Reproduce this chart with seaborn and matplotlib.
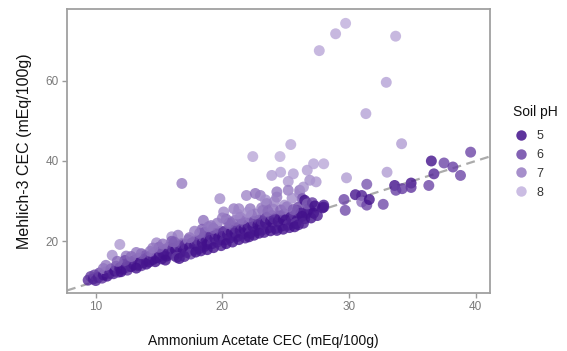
import numpy as np
import pandas as pd
import matplotlib
matplotlib.use("Agg")
import matplotlib.pyplot as plt
from matplotlib.colors import LinearSegmentedColormap, Normalize
from matplotlib.lines import Line2D
import seaborn as sns

# ---- data ----
cec_nh4oac = [
    9.4, 9.6, 9.8, 9.9, 10.0,
    10.2, 10.3, 10.5, 10.6, 10.8, 10.9, 10.6,
    11.1, 11.2, 11.4, 11.5, 11.6, 11.8, 11.9, 11.3, 11.9, 12.4,
    12.1, 12.2, 12.4, 12.5, 12.6, 12.8, 12.9, 12.7,
    13.0, 13.1, 13.3, 13.4, 13.5, 13.6, 13.8, 13.9, 13.7,
    14.0, 14.1, 14.2, 14.4, 14.5, 14.6, 14.8, 14.9, 14.8, 14.3,
    15.0, 15.1, 15.2, 15.4, 15.5, 15.6, 15.7, 15.9, 15.8, 15.3,
    16.0, 16.1, 16.2, 16.3, 16.5, 16.6, 16.7, 16.9, 16.8, 16.0, 16.5, 16.4, 16.8,
    17.0, 17.1, 17.2, 17.3, 17.4, 17.6, 17.7, 17.8, 17.9, 17.5,
    18.0, 18.1, 18.2, 18.4, 18.5, 18.5, 18.6, 18.7, 18.9, 18.8, 18.4, 18.6,
    19.0, 19.1, 19.2, 19.4, 19.5, 19.6, 19.7, 19.9, 19.8, 19.3, 19.8,
    20.0, 20.1, 20.1, 20.2, 20.4, 20.5, 20.6, 20.7, 20.9, 20.9, 20.8, 20.3, 20.6,
    21.0, 21.1, 21.2, 21.3, 21.4, 21.5, 21.6, 21.7, 21.9, 21.8, 21.9, 21.4,
    22.0, 22.1, 22.2, 22.2, 22.2, 22.3, 22.4, 22.4, 22.5, 22.6, 22.7, 22.8, 22.9,
    23.0, 23.0, 23.1, 23.2, 23.2, 23.4, 23.5, 23.5, 23.7, 23.8, 23.9, 23.9,
    24.0, 24.1, 24.2, 24.3, 24.3, 24.4, 24.5, 24.5, 24.55, 24.6, 24.7, 24.8, 24.9, 24.9,
    25.0, 25.2, 25.2, 25.2, 25.4, 25.4, 25.5, 25.6, 25.7, 25.9, 25.9, 25.8,
    26.0, 26.1, 26.1, 26.3, 26.4, 26.5, 26.5, 26.7, 26.8, 26.9, 26.9, 26.6, 26.2,
    27.2, 27.2, 27.4, 27.65, 27.9, 28.0, 28.0, 28.0, 28.94, 29.6, 29.7, 29.73, 29.8,
    30.5, 31.0, 31.0, 31.4, 31.33, 31.4, 31.6, 32.7, 32.94, 33.0, 33.6, 33.68, 33.7,
    34.15, 34.2, 34.9, 34.9, 36.3, 36.5, 36.7, 37.5, 38.2, 38.8, 39.6,
    12.0, 12.3, 13.2, 13.6, 14.0, 14.7, 15.0, 15.5, 16.2, 16.6,
    17.0, 17.4, 17.9, 18.2, 18.3, 18.8, 19.1, 19.3, 19.6, 19.9,
    20.3, 20.5, 20.8, 21.0, 21.3, 21.6, 21.8, 22.1, 22.5, 22.6,
    22.9, 23.1, 23.3, 23.6, 23.8, 24.0, 24.3, 24.6, 24.8, 25.1,
    25.3, 25.6, 25.7, 26.0, 26.3, 26.4, 26.7, 27.0, 27.1, 27.5,
    27.3, 16.0, 15.3, 14.5, 13.2, 12.8, 11.7, 10.8, 20.0, 21.2,
    22.0, 23.4, 24.1, 25.5, 18.9, 17.8,
]
cec_mehlich3 = [
    10.3, 11.2, 10.6, 11.6, 10.2,
    11.0, 12.1, 10.8, 11.6, 12.4, 11.3, 13.2,
    12.0, 13.1, 11.9, 12.6, 13.8, 12.3, 13.4, 16.5, 19.2, 16.3,
    13.0, 14.2, 13.5, 12.8, 14.6, 13.7, 15.0, 14.0,
    14.2, 15.3, 14.0, 15.8, 14.8, 13.9, 15.5, 16.4, 14.6,
    15.2, 16.0, 14.8, 16.5, 15.4, 17.2, 15.9, 16.7, 19.6, 17.5,
    16.2, 17.4, 15.6, 16.8, 18.0, 16.3, 17.6, 16.9, 18.6, 17.0,
    17.2, 18.3, 16.4, 17.8, 19.0, 17.1, 18.4, 17.6, 19.4, 21.1, 21.5, 16.0, 34.4,
    18.0, 19.2, 17.2, 20.4, 18.5, 19.6, 17.8, 18.9, 20.2, 16.8,
    19.0, 20.3, 18.2, 19.6, 21.0, 25.2, 18.7, 20.0, 21.4, 19.3, 23.0, 22.2,
    20.2, 21.3, 19.4, 20.7, 22.0, 19.8, 21.0, 22.5, 30.6, 23.2, 20.4,
    21.2, 22.4, 27.3, 20.3, 21.6, 23.0, 20.8, 22.2, 28.1, 23.6, 21.5, 25.5, 24.8,
    22.0, 23.2, 21.2, 28.1, 22.6, 24.1, 21.8, 23.0, 31.4, 24.5, 22.4, 26.0,
    23.2, 24.3, 22.0, 26.0, 28.1, 26.5, 23.6, 41.1, 24.9, 31.9, 22.6, 24.0, 25.3,
    31.4, 24.0, 25.2, 27.7, 22.9, 24.6, 29.4, 26.0, 23.4, 25.0, 36.4, 26.4,
    24.6, 25.7, 23.2, 32.3, 31.0, 24.9, 26.3, 25.5, 41.1, 37.2, 23.8, 25.4, 29.0, 26.8,
    25.3, 24.0, 34.9, 32.7, 44.1, 26.0, 25.0, 36.8, 26.5, 25.2, 27.7, 24.4,
    28.5, 32.7, 31.9, 30.6, 33.5, 30.2, 25.6, 37.7, 28.1, 27.9, 35.2, 26.8, 27.0,
    27.0, 39.3, 34.8, 67.5, 28.3, 28.5, 39.3, 29.0, 71.7, 30.4, 27.7, 74.3, 35.8,
    31.6, 31.4, 29.8, 34.2, 51.8, 29.0, 30.4, 29.2, 59.6, 37.2, 33.9, 71.1, 32.7,
    44.3, 33.1, 34.5, 33.4, 33.9, 40.0, 36.8, 39.5, 38.5, 36.4, 42.2,
    12.4, 15.2, 13.3, 16.9, 14.3, 14.9, 18.5, 15.3, 19.8, 15.7,
    16.2, 20.9, 17.3, 22.0, 17.6, 17.9, 23.9, 18.4, 24.5, 18.9,
    19.4, 24.4, 19.8, 25.2, 20.4, 25.5, 20.8, 21.1, 21.5, 26.8,
    22.0, 28.3, 22.2, 27.5, 22.6, 28.0, 22.7, 27.8, 23.0, 28.6,
    23.4, 27.9, 23.6, 24.1, 26.2, 24.5, 29.3, 25.8, 29.6, 26.4,
    28.8, 20.0, 19.3, 18.3, 17.2, 16.2, 15.0, 14.0, 25.8, 26.8,
    27.2, 30.3, 29.9, 30.7, 23.6, 22.5,
]
soil_ph = [
    5.5, 5.8, 5.2, 6.0, 5.4,
    5.3, 5.9, 5.6, 5.1, 6.2, 5.0, 6.8,
    5.2, 5.7, 5.4, 5.0, 6.3, 5.5, 5.1, 7.3, 7.5, 6.9,
    5.3, 6.0, 5.2, 5.6, 5.9, 5.0, 6.4, 5.4,
    5.1, 5.8, 5.3, 6.1, 5.0, 5.7, 5.2, 6.5, 5.4,
    5.2, 5.6, 5.0, 6.0, 5.3, 6.6, 5.1, 5.5, 7.2, 6.8,
    5.0, 5.9, 5.4, 5.2, 6.3, 5.0, 5.6, 5.3, 6.7, 5.1,
    5.1, 5.7, 5.5, 5.0, 6.2, 5.2, 5.4, 5.0, 6.0, 7.4, 7.0, 5.8, 7.0,
    5.1, 5.6, 5.3, 6.9, 5.0, 5.8, 5.4, 5.1, 6.1, 5.9,
    5.2, 5.9, 5.5, 5.0, 6.2, 6.8, 5.3, 5.1, 6.0, 5.0, 6.5, 6.3,
    5.0, 5.5, 5.6, 5.1, 5.9, 5.4, 5.0, 6.3, 7.3, 6.4, 5.2,
    5.0, 5.6, 7.2, 5.5, 5.1, 6.0, 5.3, 5.0, 7.0, 6.2, 5.2, 6.6, 6.9,
    5.0, 5.7, 5.4, 7.1, 5.1, 6.0, 5.3, 5.0, 7.2, 6.3, 5.2, 6.6,
    5.0, 5.5, 5.6, 7.4, 6.9, 6.7, 5.1, 7.8, 6.1, 6.8, 5.3, 5.0, 5.8,
    7.0, 5.0, 5.6, 6.6, 5.4, 5.1, 6.2, 6.0, 5.3, 5.0, 7.6, 6.3,
    5.0, 5.5, 5.7, 6.9, 7.0, 5.1, 5.9, 5.2, 7.9, 7.7, 5.4, 5.0, 7.3, 6.2,
    5.0, 5.6, 7.5, 7.0, 7.8, 5.1, 5.3, 7.6, 5.7, 5.0, 6.1, 5.8,
    6.0, 6.8, 7.2, 6.3, 7.4, 5.0, 5.5, 7.6, 5.0, 5.1, 7.3, 5.4, 5.2,
    5.0, 7.7, 7.5, 7.8, 5.0, 5.1, 7.8, 5.2, 7.8, 6.0, 6.1, 7.9, 7.6,
    5.1, 5.3, 6.8, 6.3, 7.7, 6.0, 5.0, 6.1, 7.7, 7.6, 5.0, 7.8, 5.9,
    7.6, 5.8, 5.0, 5.7, 6.0, 5.0, 5.4, 6.0, 5.9, 6.0, 6.0,
    5.0, 6.1, 5.0, 6.4, 5.1, 5.0, 6.5, 5.0, 6.6, 5.0,
    5.2, 6.7, 5.0, 6.5, 5.1, 5.0, 6.8, 5.0, 6.9, 5.2,
    5.0, 6.6, 5.1, 6.7, 5.0, 6.8, 5.2, 5.0, 5.1, 6.9,
    5.0, 7.0, 5.2, 6.7, 5.0, 6.8, 5.1, 6.6, 5.0, 6.9,
    5.2, 6.4, 5.0, 5.1, 5.0, 5.3, 6.5, 5.0, 5.8, 5.2,
    5.0, 6.4, 6.8, 6.9, 6.9, 6.7, 6.6, 6.9, 7.0, 7.2,
    7.3, 7.3, 7.1, 7.3, 6.9, 7.0,
]
legend_ph = [5, 6, 7, 8]
x_ticks = [10, 20, 30, 40]
y_ticks = [20, 40, 60]

df = pd.DataFrame({"nh4oac": cec_nh4oac, "m3": cec_mehlich3, "ph": soil_ph})

# ---- style ----
sns.set_theme(style="white")
plt.rcParams["font.family"] = ["Liberation Sans", "DejaVu Sans"]

cmap = LinearSegmentedColormap.from_list("soilph", ["#42108b", "#c2b2de"])
norm = Normalize(vmin=5, vmax=8)

fig = plt.figure(figsize=(5.67, 3.51), dpi=100)
ax = fig.add_axes([67 / 567, 58 / 351, (490 - 67) / 567, (293 - 9.3) / 351])

xlim = (7.73, 41.13)
ylim = (7.1, 77.8)
ax.set_xlim(*xlim)
ax.set_ylim(*ylim)

# 1:1 reference line
ax.plot([xlim[0], xlim[1]], [xlim[0], xlim[1]], color="#ababab", lw=1.6,
        dashes=(4, 2.5), zorder=1)

sns.scatterplot(data=df, x="nh4oac", y="m3", hue="ph", palette=cmap,
                hue_norm=norm, s=62, alpha=0.8, linewidth=0, legend=False,
                ax=ax, zorder=2)

ax.set_xticks(x_ticks)
ax.set_yticks(y_ticks)
ax.tick_params(axis="both", which="both", direction="out", length=3.5,
               width=1.0, color="#9a9a9a", labelcolor="#7a7a7a",
               labelsize=8.5, pad=2.5, bottom=True, left=True)
for sp in ax.spines.values():
    sp.set_color("#a0a0a0")
    sp.set_linewidth(1.3)

ax.set_xlabel("Ammonium Acetate CEC (mEq/100g)", fontsize=10,
              color="#111111")
ax.xaxis.set_label_coords((263 - 67) / 423, (293 - 334) / 283.7)
ax.set_ylabel("Mehlich-3 CEC (mEq/100g)", fontsize=11.5,
              color="#111111", labelpad=10)

handles = [Line2D([0], [0], marker="o", linestyle="", markersize=7.5,
                  markerfacecolor=cmap(norm(v)), markeredgewidth=0, alpha=0.85)
           for v in legend_ph]
leg = fig.legend(handles, [str(v) for v in legend_ph], title="Soil pH",
                 loc="upper left", bbox_to_anchor=(508 / 567, 1 - 100 / 351),
                 frameon=False, fontsize=9, title_fontsize=10,
                 handletextpad=0.7, labelspacing=0.55, handlelength=1.2,
                 borderaxespad=0)
for t in leg.get_texts():
    t.set_color("#333333")
leg.get_title().set_color("#111111")
leg._legend_box.align = "left"
leg._legend_box.sep = 8

fig.savefig("out.png", dpi=100)
